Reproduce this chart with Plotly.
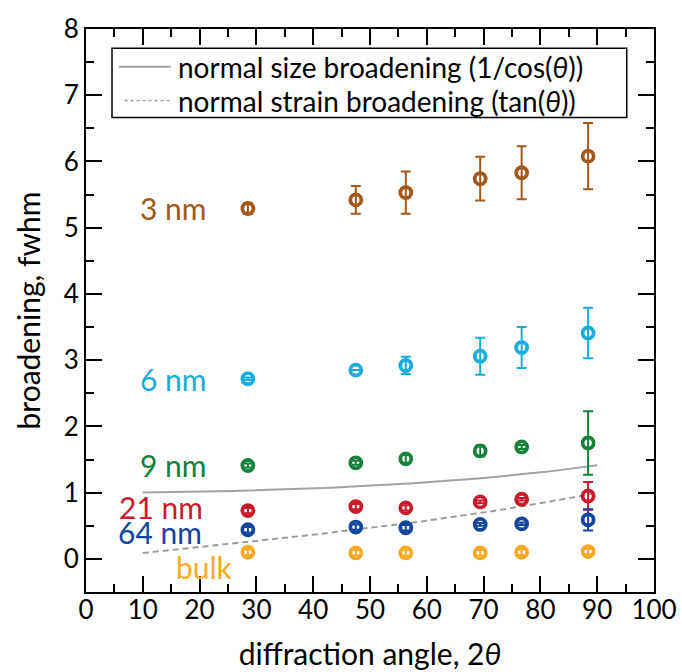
import numpy as np
import plotly.graph_objects as go

# Diffraction peak positions (2θ, degrees)
angles = [28.5, 47.5, 56.3, 69.4, 76.7, 88.4]

# Peak broadening (FWHM) and error per crystallite size
sizes = ["3 nm", "6 nm", "9 nm", "21 nm", "64 nm", "bulk"]
fwhm_3nm = [5.29, 5.42, 5.53, 5.74, 5.83, 6.08]
err_3nm = [0.08, 0.21, 0.32, 0.33, 0.40, 0.50]
fwhm_6nm = [2.72, 2.85, 2.92, 3.06, 3.19, 3.41]
err_6nm = [0.02, 0.0, 0.13, 0.28, 0.31, 0.38]
fwhm_9nm = [1.41, 1.45, 1.51, 1.63, 1.69, 1.75]
err_9nm = [0.03, 0.03, 0.06, 0.08, 0.03, 0.48]
fwhm_21nm = [0.73, 0.79, 0.77, 0.86, 0.90, 0.95]
err_21nm = [0.04, 0.04, 0.04, 0.02, 0.02, 0.21]
fwhm_64nm = [0.44, 0.48, 0.47, 0.52, 0.53, 0.59]
err_64nm = [0.04, 0.04, 0.04, 0.02, 0.02, 0.16]
fwhm_bulk = [0.10, 0.09, 0.09, 0.09, 0.10, 0.11]
err_bulk = [0.04, 0.04, 0.04, 0.04, 0.04, 0.04]

colors = ["#A2581C", "#1AADDC", "#15813A", "#C9192B", "#12469E", "#F8AA22"]
series = [
    (fwhm_3nm, err_3nm),
    (fwhm_6nm, err_6nm),
    (fwhm_9nm, err_9nm),
    (fwhm_21nm, err_21nm),
    (fwhm_64nm, err_64nm),
    (fwhm_bulk, err_bulk),
]
# Size-label anchors (x in degrees, y in fwhm units)
label_x = [21.6, 21.6, 21.6, 20.9, 20.8, 20.8]
label_y = [5.30, 2.72, 1.41, 0.78, 0.40, -0.12]
label_anchor = ["right", "right", "right", "right", "right", "center"]

legend_names = ["normal size broadening (1/cos(<i>θ</i>))",
                "normal strain broadening (tan(<i>θ</i>))"]

FONT = "Lato"
TICK_FS = 26
FS = 30
KEY_FS = 28
LINE_GRAY = "#A3A3A3"
DASH_GRAY = "#9C9C9C"

fig = go.Figure()

# Reference broadening curves
two_theta = np.linspace(10, 90, 81)
half = np.radians(two_theta / 2)
fig.add_trace(go.Scatter(
    x=two_theta, y=1 / np.cos(half), mode="lines", showlegend=False,
    line=dict(color=LINE_GRAY, width=2), name=legend_names[0],
))
fig.add_trace(go.Scatter(
    x=two_theta, y=np.tan(half), mode="lines", showlegend=False,
    line=dict(color=DASH_GRAY, width=2, dash="6px,4px"), name=legend_names[1],
))

for (vals, errs), col, name in zip(series, colors, sizes):
    fig.add_trace(go.Scatter(
        x=angles, y=vals, mode="markers", showlegend=False, name=name,
        marker=dict(symbol="circle", size=11, color="rgba(0,0,0,0)",
                    line=dict(width=3.8, color=col)),
        error_y=dict(type="data", array=errs, visible=True,
                     color=col, thickness=2, width=5),
    ))

for name, col, lx, ly, anc in zip(sizes, colors, label_x, label_y, label_anchor):
    fig.add_annotation(
        x=lx, y=ly, xref="x", yref="y", text=name, showarrow=False,
        xanchor=anc, yanchor="middle",
        font=dict(family=FONT, size=FS, color=col),
    )

# Framed key for the two reference curves
key_box = dict(x0=0.0458, x1=0.952, y0=0.843, y1=0.966)
key_rows = [0.933, 0.873]
fig.add_shape(type="rect", xref="paper", yref="paper", **key_box,
              line=dict(color="black", width=1.5), fillcolor="white", layer="above")
fig.add_shape(type="line", xref="paper", yref="paper",
              x0=0.058, x1=0.1496, y0=key_rows[0], y1=key_rows[0],
              line=dict(color=LINE_GRAY, width=2), layer="above")
fig.add_shape(type="line", xref="paper", yref="paper",
              x0=0.068, x1=0.1496, y0=key_rows[1], y1=key_rows[1],
              line=dict(color=DASH_GRAY, width=1.5, dash="3px,3px"), layer="above")
for txt, ry in zip(legend_names, key_rows):
    fig.add_annotation(
        x=0.158, y=ry, xref="paper", yref="paper", text=txt, showarrow=False,
        xanchor="left", yanchor="middle",
        font=dict(family=FONT, size=KEY_FS, color="black"),
    )

axis_common = dict(
    showline=True, linecolor="black", linewidth=2, mirror="ticks",
    ticks="inside", ticklen=16, tickwidth=1.5, tickcolor="black",
    showgrid=False, zeroline=False, automargin=False,
    tickfont=dict(family=FONT, size=TICK_FS, color="black"),
)
fig.update_xaxes(
    range=[0, 100], dtick=10, tick0=0, ticklabelstandoff=-6,
    minor=dict(ticks="inside", ticklen=8, dtick=5, tickwidth=1.5,
               tickcolor="black", showgrid=False),
    title=dict(text="diffraction angle, 2<i>θ</i>",
               font=dict(family=FONT, size=FS, color="black"), standoff=20),
    **axis_common,
)
fig.update_yaxes(
    range=[-0.5, 8], dtick=1, tick0=0,
    minor=dict(ticks="inside", ticklen=8, dtick=0.5, tickwidth=1.5,
               tickcolor="black", showgrid=False),
    title=dict(text="broadening, fwhm",
               font=dict(family=FONT, size=FS, color="black"), standoff=14),
    **axis_common,
)

fig.update_layout(
    width=682, height=672,
    margin=dict(l=86, r=28, t=29, b=80),
    paper_bgcolor="white", plot_bgcolor="white",
    font=dict(family=FONT, size=FS, color="black"),
    showlegend=False,
)

fig.write_html("out.html")
